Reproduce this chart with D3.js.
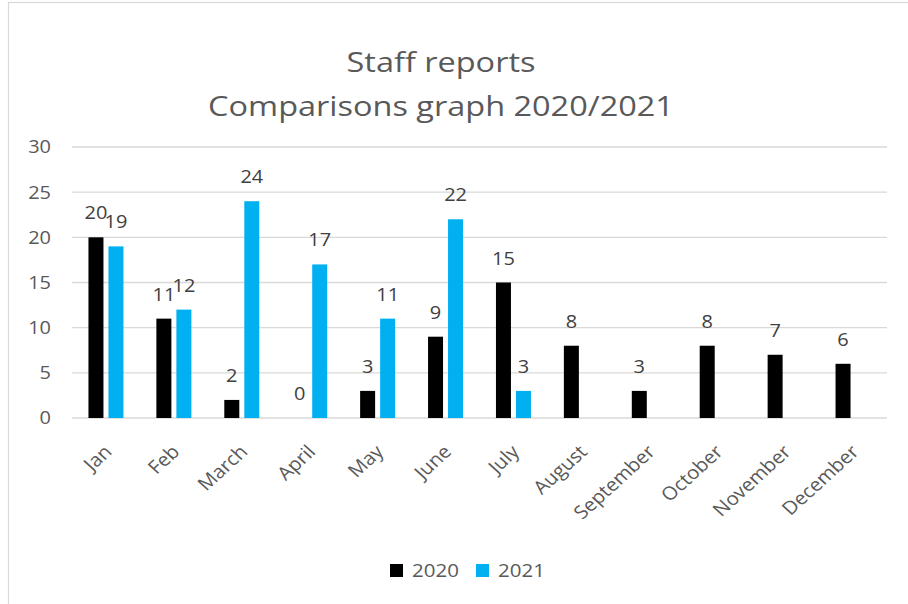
<!DOCTYPE html>
<html>
<head>
<meta charset="utf-8">
<script src="https://cdn.jsdelivr.net/npm/d3@7"></script>
<style>
  html, body { margin: 0; padding: 0; background: #fff; }
  svg { display: block; }
  text { font-family: "Open Sans", "DejaVu Sans", sans-serif; }
</style>
</head>
<body>
<div id="chart"></div>
<script>
// Monthly staff report counts for two years
const months = ["Jan", "Feb", "March", "April", "May", "June", "July",
                "August", "September", "October", "November", "December"];
const series = ["2020", "2021"];
const values2020 = [20, 11, 2, 0, 3, 9, 15, 8, 3, 8, 7, 6];
const values2021 = [19, 12, 24, 17, 11, 22, 3, null, null, null, null, null];
const yTicks = [0, 5, 10, 15, 20, 25, 30];
const titleLines = ["Staff reports", "Comparisons graph 2020/2021"];

const colors = { "2020": "#000000", "2021": "#00B0F0" };

const W = 908, H = 604;
const plot = { left: 72, right: 887, top: 147, bottom: 418 };

// wide-set lettering: glyphs are stretched horizontally
const sxTitle = 1.16, sxNum = 1.08, sxMonth = 1.1;

const svg = d3.select("#chart").append("svg")
  .attr("width", W).attr("height", H);

// chart frame
svg.append("rect")
  .attr("x", 8.5).attr("y", 2.5)
  .attr("width", W + 20).attr("height", H + 20)
  .attr("fill", "#fff").attr("stroke", "#d9d9d9").attr("stroke-width", 1.2);

// title
svg.append("g").selectAll("text").data(titleLines).join("text")
  .attr("transform", (d, i) => `translate(441,${72 + i * 44}) scale(${sxTitle},1)`)
  .attr("text-anchor", "middle")
  .attr("font-size", 28)
  .attr("fill", "#595959")
  .text(d => d);

const x0 = d3.scaleBand().domain(months).range([plot.left, plot.right]);
const groupW = 35;
const x1 = d3.scaleBand().domain(series).range([0, groupW]).paddingInner(0.25);
const y = d3.scaleLinear().domain([0, 30]).range([plot.bottom, plot.top]);

// gridlines
svg.append("g").selectAll("line").data(yTicks).join("line")
  .attr("x1", plot.left).attr("x2", plot.right)
  .attr("y1", d => y(d)).attr("y2", d => y(d))
  .attr("stroke", "#d9d9d9").attr("stroke-width", 1.3);

// y axis labels
const yAxis = d3.axisLeft(y).tickValues(yTicks).tickSize(0).tickPadding(0);
const yg = svg.append("g").attr("transform", `translate(51,0)`).call(yAxis);
yg.select(".domain").remove();
yg.selectAll("text")
  .attr("font-family", "Open Sans, sans-serif")
  .attr("font-size", 18.5).attr("fill", "#595959")
  .attr("transform", `scale(${sxNum},1)`);

// x axis labels, rotated
const xAxis = d3.axisBottom(x0).tickSize(0).tickPadding(0);
const xg = svg.append("g").attr("transform", `translate(0,${plot.bottom})`).call(xAxis);
xg.select(".domain").remove();
xg.selectAll(".tick text")
  .attr("font-family", "Open Sans, sans-serif")
  .attr("font-size", 18.5).attr("fill", "#595959")
  .attr("text-anchor", "end")
  .attr("dy", null).attr("y", null)
  .attr("transform", `translate(7,35) scale(${sxMonth},1) rotate(-45)`);

// bars
const rows = months.map((m, i) => ({
  month: m,
  vals: [
    { key: "2020", v: values2020[i] },
    { key: "2021", v: values2021[i] }
  ]
}));

const groups = svg.append("g").selectAll("g").data(rows).join("g")
  .attr("transform", d => `translate(${x0(d.month) + (x0.bandwidth() - groupW) / 2},0)`);

groups.selectAll("rect").data(d => d.vals.filter(e => e.v !== null)).join("rect")
  .attr("x", d => x1(d.key))
  .attr("width", x1.bandwidth())
  .attr("y", d => y(d.v))
  .attr("height", d => y(0) - y(d.v))
  .attr("fill", d => colors[d.key]);

// value labels
groups.selectAll("text.val").data(d => d.vals.filter(e => e.v !== null)).join("text")
  .attr("class", "val")
  .attr("transform", d =>
    `translate(${x1(d.key) + x1.bandwidth() / 2},${y(d.v) - 18}) scale(${sxNum},1)`)
  .attr("text-anchor", "middle")
  .attr("font-size", 18.5)
  .attr("fill", "#404040")
  .text(d => d.v);

// legend
const legend = svg.append("g").attr("transform", "translate(390,564)");
const li = legend.selectAll("g").data(series).join("g")
  .attr("transform", (d, i) => `translate(${i * 86},0)`);
li.append("rect").attr("width", 13).attr("height", 13)
  .attr("fill", d => colors[d]);
li.append("text")
  .attr("transform", `translate(22,13.3) scale(${sxNum},1)`)
  .attr("font-size", 19).attr("fill", "#595959")
  .text(d => d);
</script>
</body>
</html>
